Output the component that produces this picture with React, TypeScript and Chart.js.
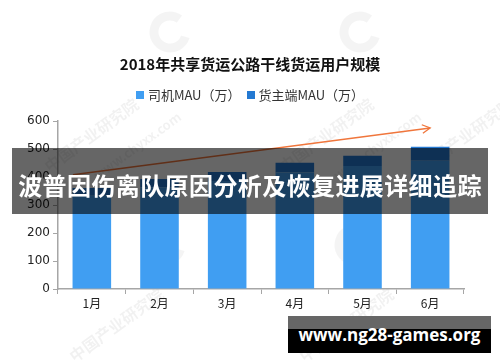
import React, { useEffect, useRef } from "react";
import { Chart, registerables } from "chart.js";

Chart.register(...registerables);

const chartTitle = "2018年共享货运公路干线货运用户规模";
const months = ["1月", "2月", "3月", "4月", "5月", "6月"];
const seriesNames = ["司机MAU（万）", "货主端MAU（万）"];
const driverMAU = [333, 363, 386, 416, 439, 458];
const shipperMAU = [28, 30, 32, 35, 37, 50];
const yTicks = [0, 100, 200, 300, 400, 500, 600];
// trend arrow: [category position, value]
const arrowStart = [-0.28, 408];
const arrowEnd = [5.0, 575];
const overlayHeadline = "波普因伤离队原因分析及恢复进展详细追踪";
const overlaySite = "www.ng28-games.org";

const LIGHT = "#409EF2";
const DARK = "#2479D2";

const watermarkPlugin = {
  id: "watermark",
  beforeDraw(chart: any) {
    const ctx = chart.ctx;
    ctx.save();
    const marks: [number, number, string, number][] = [
      [95, 140, "中国产业研究院", 16],
      [140, 150, "www.chyxx.com", 13],
      [330, 140, "中国产业研究院", 16],
      [380, 150, "www.chyxx.com", 13],
      [470, 140, "中国产业研究院", 16],
      [120, 330, "中国产业研究院", 16],
      [350, 330, "中国产业研究院", 16],
    ];
    ctx.fillStyle = "rgba(0,0,0,0.055)";
    for (const [x, y, t, s] of marks) {
      ctx.save();
      ctx.translate(x, y);
      ctx.rotate(-Math.PI / 5);
      ctx.font = `bold ${s}px "Noto Sans CJK SC"`;
      ctx.textAlign = "center";
      ctx.fillText(t, 0, 0);
      ctx.restore();
    }
    ctx.strokeStyle = "rgba(0,0,0,0.045)";
    ctx.lineWidth = 9;
    for (const [x, y] of [[170, 32], [360, 32], [165, 245], [355, 245]]) {
      ctx.beginPath();
      ctx.arc(x, y, 16, 0.3, Math.PI * 1.7);
      ctx.stroke();
    }
    ctx.restore();
  },
};

const arrowPlugin = {
  id: "trendArrow",
  afterDatasetsDraw(chart: any) {
    const { ctx, scales } = chart;
    const x1 = scales.x.getPixelForValue(arrowStart[0]);
    const y1 = scales.y.getPixelForValue(arrowStart[1]);
    const x2 = scales.x.getPixelForValue(arrowEnd[0]);
    const y2 = scales.y.getPixelForValue(arrowEnd[1]);
    ctx.save();
    ctx.strokeStyle = "#F0763C";
    ctx.lineWidth = 1.3;
    ctx.beginPath();
    ctx.moveTo(x1, y1);
    ctx.lineTo(x2, y2);
    ctx.stroke();
    const ang = Math.atan2(y2 - y1, x2 - x1);
    const len = 9;
    ctx.beginPath();
    ctx.moveTo(x2 - len * Math.cos(ang - 0.5), y2 - len * Math.sin(ang - 0.5));
    ctx.lineTo(x2, y2);
    ctx.lineTo(x2 - len * Math.cos(ang + 0.5), y2 - len * Math.sin(ang + 0.5));
    ctx.stroke();
    ctx.restore();
  },
};

export default function App() {
  const ref = useRef<HTMLCanvasElement>(null);
  useEffect(() => {
    const chart = new Chart(ref.current as HTMLCanvasElement, {
      type: "bar",
      data: {
        labels: months,
        datasets: [
          { label: seriesNames[0], data: driverMAU, backgroundColor: LIGHT, stack: "s" },
          { label: seriesNames[1], data: shipperMAU, backgroundColor: DARK, stack: "s" },
        ],
      },
      options: {
        animation: false,
        responsive: false,
        maintainAspectRatio: false,
        layout: { padding: { left: 0, right: 36, top: 121, bottom: 43 } },
        datasets: { bar: { categoryPercentage: 1, barPercentage: 0.57 } },
        plugins: { legend: { display: false }, title: { display: false }, tooltip: { enabled: false } },
        scales: {
          x: {
            stacked: true,
            afterFit(s: any) { s.height = 30; },
            grid: { drawOnChartArea: false, tickLength: 5, color: "#A6A6A6", offset: true },
            border: { color: "#A6A6A6", width: 1.5 },
            ticks: { color: "#222", font: { size: 12, family: '"Noto Sans CJK SC"' }, padding: 2 },
          },
          y: {
            stacked: true,
            min: 0,
            max: 600,
            afterFit(s: any) { s.width = 58; },
            afterBuildTicks(s: any) { s.ticks = yTicks.map((v) => ({ value: v })); },
            grid: { drawOnChartArea: false, tickLength: 5, color: "#A6A6A6" },
            border: { color: "#A6A6A6", width: 1.5 },
            ticks: { color: "#222", font: { size: 12, family: '"DejaVu Sans"' }, padding: 3 },
          },
        },
      },
      plugins: [watermarkPlugin, arrowPlugin],
    });
    return () => chart.destroy();
  }, []);

  return (
    <div style={{ position: "fixed", left: 0, top: 0, width: 500, height: 362, background: "#fff", overflow: "hidden" }}>
      <canvas ref={ref} width={500} height={362} style={{ position: "absolute", left: 0, top: 0 }} />
      <div style={{ position: "absolute", left: 0, width: 500, top: 54, textAlign: "center", font: 'bold 15px "Noto Sans CJK SC"', color: "#111", lineHeight: "20px" }}>
        {chartTitle}
      </div>
      <div style={{ position: "absolute", left: 0, width: 500, top: 86, display: "flex", justifyContent: "center", alignItems: "center", font: '13px "Noto Sans CJK SC"', color: "#333", lineHeight: "18px" }}>
        <span style={{ display: "inline-block", width: 8, height: 8, background: LIGHT, marginRight: 4 }} />
        <span style={{ marginRight: 6 }}>{seriesNames[0]}</span>
        <span style={{ display: "inline-block", width: 8, height: 8, background: DARK, marginRight: 4 }} />
        <span>{seriesNames[1]}</span>
      </div>
      <div style={{ position: "absolute", left: 12, top: 148, width: 476, height: 66, background: "rgba(0,0,0,0.6)", display: "flex", alignItems: "center", justifyContent: "center" }}>
        <span style={{ color: "#fff", font: 'bold 24px "Noto Sans CJK SC"', letterSpacing: 0.4, whiteSpace: "nowrap", marginTop: 6 }}>{overlayHeadline}</span>
      </div>
      <div style={{ position: "absolute", left: 288, top: 316, width: 203, height: 13, background: "#666" }} />
      <div style={{ position: "absolute", left: 288, top: 329, width: 203, height: 24, background: "#000" }} />
      <div style={{ position: "absolute", left: 288, top: 316, width: 203, height: 37, display: "flex", alignItems: "center", justifyContent: "center", color: "#fff", font: 'bold 17px "Open Sans"', whiteSpace: "nowrap" }}>
        {overlaySite}
      </div>
    </div>
  );
}
